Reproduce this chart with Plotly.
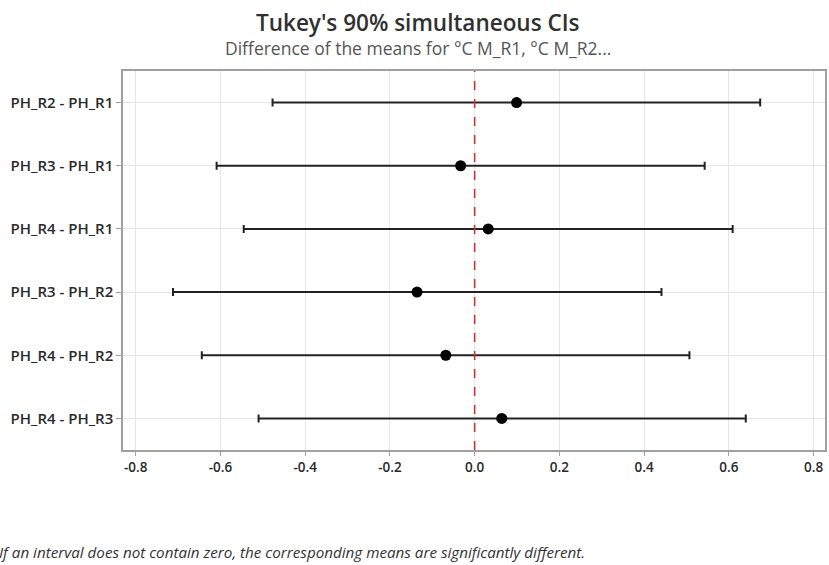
import plotly.graph_objects as go

comparisons = ["PH_R2 - PH_R1", "PH_R3 - PH_R1", "PH_R4 - PH_R1",
               "PH_R3 - PH_R2", "PH_R4 - PH_R2", "PH_R4 - PH_R3"]
diff_means = [0.099, -0.033, 0.032, -0.136, -0.068, 0.064]
lower_ci = [-0.477, -0.609, -0.545, -0.712, -0.644, -0.510]
upper_ci = [0.674, 0.543, 0.609, 0.441, 0.507, 0.640]
x_ticks = [-0.8, -0.6, -0.4, -0.2, 0.0, 0.2, 0.4, 0.6, 0.8]
x_tick_labels = ["-0.8", "-0.6", "-0.4", "-0.2", "0.0", "0.2", "0.4", "0.6", "0.8"]

err_plus = [u - m for u, m in zip(upper_ci, diff_means)]
err_minus = [m - l for m, l in zip(diff_means, lower_ci)]

FONT = "Open Sans"

fig = go.Figure()
fig.add_trace(go.Scatter(
    x=diff_means, y=comparisons, mode="markers",
    marker=dict(color="black", size=11, symbol="circle"),
    error_x=dict(type="data", symmetric=False, array=err_plus, arrayminus=err_minus,
                 color="#222222", thickness=2, width=4),
    showlegend=False, hoverinfo="x+y",
))

fig.add_shape(type="line", xref="x", yref="paper", x0=0, x1=0, y0=0, y1=1,
              line=dict(color="#c0392b", width=1.6, dash="dash"), layer="above")

fig.update_layout(
    width=829, height=565,
    margin=dict(l=123, r=2, t=71, b=115),
    paper_bgcolor="white", plot_bgcolor="white",
    font=dict(family=FONT, color="#333333"),
    xaxis=dict(range=[-0.830, 0.827], tickvals=x_ticks, ticktext=x_tick_labels,
               showgrid=True, gridcolor="#e6e6e6", gridwidth=1, zeroline=False,
               showline=True, linecolor="#a0a0a0", linewidth=1.5, mirror=True,
               ticks="outside", ticklen=4, tickcolor="#a0a0a0",
               tickfont=dict(size=13.5, color="#2a2a2a", family=FONT, weight=600)),
    yaxis=dict(type="category", categoryorder="array", categoryarray=comparisons,
               range=[5.5, -0.5],
               showgrid=True, gridcolor="#e6e6e6", gridwidth=1, zeroline=False,
               showline=True, linecolor="#a0a0a0", linewidth=1.5, mirror=True,
               ticks="outside", ticklen=5, tickcolor="#a0a0a0",
               tickfont=dict(size=15, color="#2a2a2a", family=FONT, weight=600)),
)

cx = (419 - 123) / 704
fig.add_annotation(text="Tukey's 90% simultaneous CIs", xref="paper", yref="paper",
                   x=cx, y=1, yshift=49, xanchor="center", yanchor="middle",
                   showarrow=False, font=dict(size=22.5, color="#303030", family=FONT, weight=600))
fig.add_annotation(text="Difference of the means for °C M_R1, °C M_R2...", xref="paper", yref="paper",
                   x=cx, y=1, yshift=23, xanchor="center", yanchor="middle",
                   showarrow=False, font=dict(size=17.5, color="#555555", family=FONT))
fig.add_annotation(text="<i>If an interval does not contain zero, the corresponding means are significantly different.</i>",
                   xref="paper", yref="paper", x=(-3 - 123) / 704, y=0, yshift=-102,
                   xanchor="left", yanchor="middle", showarrow=False,
                   font=dict(size=15.2, color="#333333", family=FONT))

fig.write_html("out.html")
